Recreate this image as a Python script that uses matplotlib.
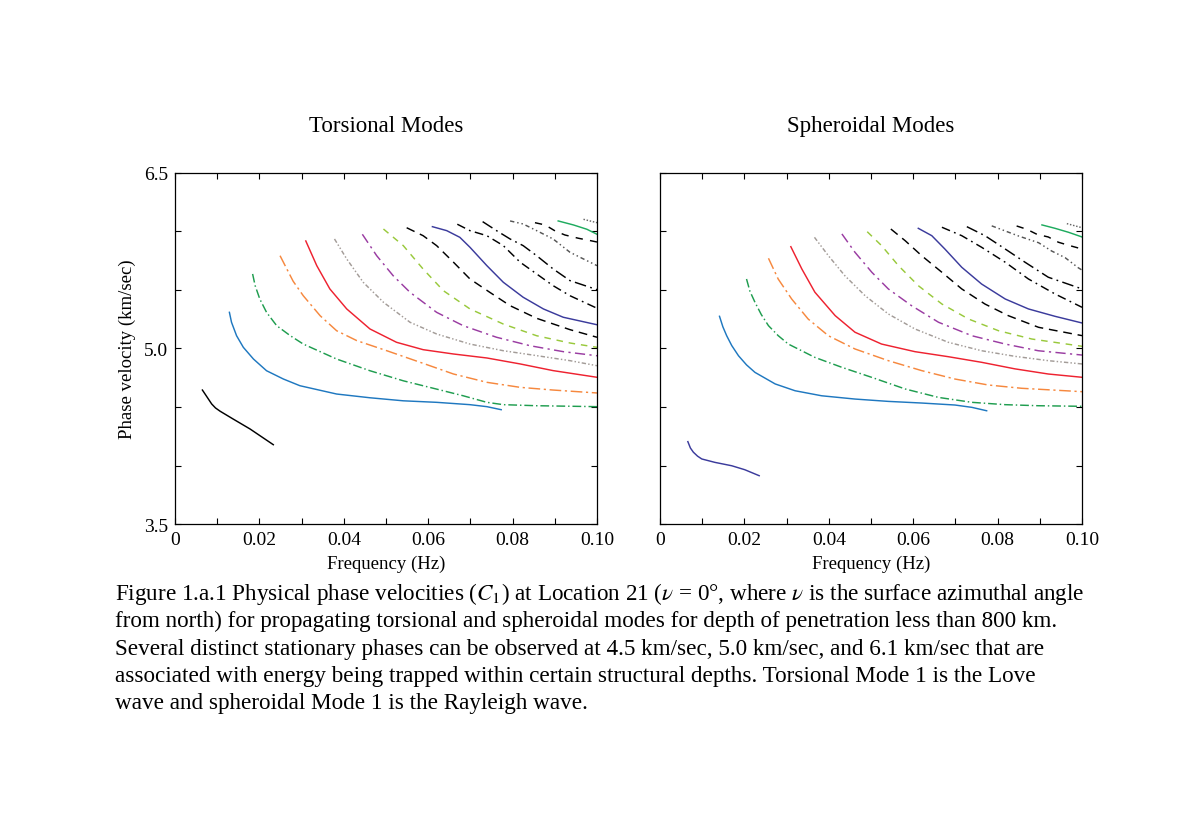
import matplotlib
matplotlib.use("Agg")
import matplotlib.pyplot as plt
from matplotlib.ticker import MultipleLocator, FixedLocator, FixedFormatter

plt.rcParams['font.family'] = ['Liberation Serif', 'DejaVu Serif']
plt.rcParams['mathtext.fontset'] = 'stix'

# phase velocity curves, one list per mode
torsional_freq = [
    [0.0065, 0.0075, 0.0087, 0.0096, 0.0107, 0.0138, 0.0178, 0.0233],
    [0.0129, 0.0134, 0.0146, 0.0162, 0.0186, 0.0217, 0.0257, 0.0296, 0.0383, 0.0462, 0.0541, 0.0620, 0.0699, 0.0739, 0.0773],
    [0.0184, 0.0190, 0.0201, 0.0217, 0.0241, 0.0273, 0.0304, 0.0383, 0.0462, 0.0541, 0.0620, 0.0683, 0.0739, 0.0778, 0.0857, 0.1000],
    [0.0249, 0.0265, 0.0280, 0.0304, 0.0344, 0.0383, 0.0431, 0.0502, 0.0581, 0.0660, 0.0739, 0.0818, 0.0896, 0.1000],
    [0.0310, 0.0336, 0.0367, 0.0407, 0.0462, 0.0525, 0.0588, 0.0660, 0.0739, 0.0818, 0.0896, 0.1000],
    [0.0378, 0.0407, 0.0446, 0.0494, 0.0557, 0.0620, 0.0699, 0.0778, 0.0857, 0.0936, 0.1000],
    [0.0444, 0.0478, 0.0517, 0.0557, 0.0620, 0.0683, 0.0762, 0.0841, 0.0920, 0.1000],
    [0.0494, 0.0541, 0.0588, 0.0636, 0.0699, 0.0778, 0.0857, 0.0936, 0.1000],
    [0.0549, 0.0588, 0.0620, 0.0660, 0.0699, 0.0746, 0.0794, 0.0857, 0.0936, 0.1000],
    [0.0610, 0.0644, 0.0675, 0.0699, 0.0739, 0.0778, 0.0825, 0.0873, 0.0920, 0.1000],
    [0.0669, 0.0699, 0.0739, 0.0778, 0.0818, 0.0857, 0.0896, 0.0936, 0.1000],
    [0.0729, 0.0762, 0.0794, 0.0825, 0.0857, 0.0896, 0.0936, 0.1000],
    [0.0794, 0.0825, 0.0857, 0.0896, 0.0936, 0.1000],
    [0.0853, 0.0877, 0.0901, 0.0924, 0.0956, 0.0980, 0.1000],
    [0.0908, 0.0944, 0.0976, 0.1000],
    [0.0968, 0.1000],
]
torsional_vel = [
    [4.645, 4.591, 4.526, 4.492, 4.464, 4.397, 4.312, 4.178],
    [5.309, 5.224, 5.109, 5.010, 4.910, 4.810, 4.739, 4.682, 4.611, 4.579, 4.553, 4.540, 4.520, 4.503, 4.477],
    [5.637, 5.537, 5.423, 5.309, 5.195, 5.110, 5.038, 4.910, 4.810, 4.724, 4.653, 4.596, 4.540, 4.520, 4.511, 4.503],
    [5.793, 5.680, 5.575, 5.451, 5.280, 5.152, 5.067, 4.981, 4.882, 4.782, 4.711, 4.668, 4.645, 4.620],
    [5.919, 5.708, 5.509, 5.338, 5.167, 5.053, 4.990, 4.953, 4.919, 4.868, 4.811, 4.754],
    [5.936, 5.765, 5.566, 5.395, 5.224, 5.124, 5.038, 4.981, 4.939, 4.896, 4.853],
    [5.976, 5.793, 5.622, 5.480, 5.309, 5.195, 5.096, 5.024, 4.973, 4.938],
    [6.021, 5.879, 5.679, 5.494, 5.338, 5.209, 5.109, 5.047, 5.010],
    [6.032, 5.964, 5.879, 5.737, 5.594, 5.480, 5.366, 5.258, 5.161, 5.096],
    [6.041, 6.007, 5.950, 5.865, 5.708, 5.566, 5.438, 5.338, 5.267, 5.203],
    [6.062, 6.007, 5.964, 5.879, 5.737, 5.637, 5.537, 5.451, 5.344],
    [6.084, 6.007, 5.936, 5.879, 5.793, 5.680, 5.580, 5.503],
    [6.090, 6.064, 6.007, 5.936, 5.822, 5.708],
    [6.075, 6.056, 6.004, 5.970, 5.942, 5.925, 5.910],
    [6.090, 6.056, 6.019, 5.976],
    [6.104, 6.075],
]

spheroidal_freq = [
    [0.0066, 0.0072, 0.0079, 0.0089, 0.0099, 0.0130, 0.0170, 0.0201, 0.0235],
    [0.0141, 0.0149, 0.0158, 0.0170, 0.0186, 0.0205, 0.0225, 0.0273, 0.0320, 0.0383, 0.0462, 0.0541, 0.0620, 0.0699, 0.0739, 0.0774],
    [0.0205, 0.0213, 0.0225, 0.0240, 0.0257, 0.0280, 0.0304, 0.0367, 0.0431, 0.0502, 0.0581, 0.0660, 0.0739, 0.0818, 0.0896, 0.1000],
    [0.0257, 0.0280, 0.0312, 0.0351, 0.0399, 0.0462, 0.0541, 0.0620, 0.0699, 0.0778, 0.0857, 0.1000],
    [0.0310, 0.0336, 0.0367, 0.0415, 0.0462, 0.0525, 0.0604, 0.0683, 0.0762, 0.0841, 0.0920, 0.1000],
    [0.0366, 0.0399, 0.0438, 0.0486, 0.0541, 0.0604, 0.0683, 0.0762, 0.0841, 0.0920, 0.1000],
    [0.0431, 0.0462, 0.0502, 0.0541, 0.0596, 0.0660, 0.0739, 0.0818, 0.0896, 0.1000],
    [0.0491, 0.0525, 0.0565, 0.0612, 0.0668, 0.0731, 0.0802, 0.0881, 0.1000],
    [0.0547, 0.0581, 0.0620, 0.0668, 0.0715, 0.0770, 0.0825, 0.0897, 0.1000],
    [0.0612, 0.0644, 0.0675, 0.0715, 0.0762, 0.0818, 0.0873, 0.0936, 0.1000],
    [0.0668, 0.0715, 0.0762, 0.0818, 0.0873, 0.0936, 0.1000],
    [0.0727, 0.0770, 0.0818, 0.0865, 0.0920, 0.1000],
    [0.0786, 0.0849, 0.0897, 0.0928, 0.0960, 0.0991, 0.1000],
    [0.0845, 0.0869, 0.0893, 0.0920, 0.0944, 0.0968, 0.1000],
    [0.0905, 0.0936, 0.0968, 0.1000],
    [0.0964, 0.1000],
]
spheroidal_vel = [
    [4.204, 4.150, 4.114, 4.080, 4.056, 4.027, 3.998, 3.964, 3.913],
    [5.275, 5.185, 5.109, 5.025, 4.938, 4.860, 4.796, 4.697, 4.639, 4.596, 4.568, 4.548, 4.534, 4.517, 4.497, 4.468],
    [5.594, 5.490, 5.395, 5.290, 5.195, 5.110, 5.038, 4.924, 4.839, 4.753, 4.654, 4.582, 4.540, 4.520, 4.511, 4.506],
    [5.771, 5.594, 5.423, 5.252, 5.109, 4.996, 4.896, 4.811, 4.739, 4.688, 4.660, 4.631],
    [5.870, 5.680, 5.481, 5.281, 5.139, 5.038, 4.973, 4.930, 4.882, 4.826, 4.782, 4.754],
    [5.950, 5.793, 5.622, 5.451, 5.295, 5.167, 5.053, 4.981, 4.933, 4.896, 4.868],
    [5.979, 5.822, 5.651, 5.509, 5.366, 5.224, 5.109, 5.038, 4.981, 4.944],
    [5.998, 5.879, 5.708, 5.537, 5.380, 5.252, 5.152, 5.081, 5.019],
    [6.021, 5.921, 5.793, 5.651, 5.509, 5.380, 5.281, 5.181, 5.110],
    [6.027, 5.964, 5.850, 5.694, 5.551, 5.423, 5.338, 5.275, 5.218],
    [6.036, 5.964, 5.865, 5.737, 5.594, 5.466, 5.352],
    [6.041, 5.964, 5.850, 5.737, 5.609, 5.509],
    [6.048, 5.962, 5.904, 5.833, 5.776, 5.690, 5.670],
    [6.047, 6.019, 5.976, 5.953, 5.908, 5.882, 5.850],
    [6.056, 6.027, 5.993, 5.953],
    [6.067, 6.032],
]

panel_titles = ['Torsional Modes', 'Spheroidal Modes']
x_ticks = [0, 0.02, 0.04, 0.06, 0.08, 0.10]
x_tick_labels = ['0', '0.02', '0.04', '0.06', '0.08', '0.10']
y_ticks = [3.5, 5.0, 6.5]
y_tick_labels = ['3.5', '5.0', '6.5']

caption = [
    r'Figure 1.a.1 Physical phase velocities ($C_1$) at Location 21 ($\nu$ = 0°, where $\nu$ is the surface azimuthal angle',
    'from north) for propagating torsional and spheroidal modes for depth of penetration less than 800 km.',
    'Several distinct stationary phases can be observed at 4.5 km/sec, 5.0 km/sec, and 6.1 km/sec that are',
    'associated with energy being trapped within certain structural depths. Torsional Mode 1 is the Love',
    'wave and spheroidal Mode 1 is the Rayleigh wave.',
]

# colour and dash style for each mode (first mode differs between panels)
first_colour = ['black', '#3b3b9c']
mode_colours = [None, '#1f78c0', '#1f9d4f', '#f6883e', '#ee2230', '#a39c98',
                '#9a3ca2', '#99c93c', 'black', '#3b3b9c', 'black', 'black',
                '#555555', 'black', '#1fab5f', '#666666']
mode_styles = ['-', '-', (0, (6, 2, 1, 2)), (0, (8, 2.5, 1.5, 2.5)), '-',
               (0, (3, 1.5, 1, 1.5, 1, 1.5)), (0, (7, 3, 1.5, 3)), (0, (4.5, 4)),
               (0, (6, 4)), '-', (0, (6, 3, 1.2, 3)), (0, (8, 3, 1.2, 3)),
               (0, (3, 2, 1, 2, 1, 2)), (0, (5, 5)), '-', (0, (1, 1.2))]

fig = plt.figure(figsize=(12, 8.28), dpi=100)
ax1 = fig.add_axes([0.1458, 0.3659, 0.3517, 0.4240])
ax2 = fig.add_axes([0.5500, 0.3659, 0.3517, 0.4240])

data = [(torsional_freq, torsional_vel), (spheroidal_freq, spheroidal_vel)]
for k, ax in enumerate([ax1, ax2]):
    freqs, vels = data[k]
    for i in range(len(freqs)):
        col = first_colour[k] if i == 0 else mode_colours[i]
        ax.plot(freqs[i], vels[i], color=col, linestyle=mode_styles[i],
                lw=1.05, solid_joinstyle='round')
    ax.set_xlim(0, 0.1)
    ax.set_ylim(3.5, 6.5)
    ax.xaxis.set_major_locator(FixedLocator(x_ticks))
    ax.xaxis.set_major_formatter(FixedFormatter(x_tick_labels))
    ax.xaxis.set_minor_locator(MultipleLocator(0.01))
    ax.yaxis.set_major_locator(FixedLocator(y_ticks))
    ax.yaxis.set_minor_locator(MultipleLocator(0.5))
    if k == 0:
        ax.yaxis.set_major_formatter(FixedFormatter(y_tick_labels))
        ax.set_ylabel('Phase velocity (km/sec)', fontsize=13.5, labelpad=6)
    else:
        ax.set_yticklabels([])
    ax.tick_params(which='both', direction='in', top=True, right=True,
                   length=4, width=0.8, labelsize=14, pad=5)
    for s in ax.spines.values():
        s.set_linewidth(0.9)
    ax.set_xlabel('Frequency (Hz)', fontsize=13.5, labelpad=5)
    ax.set_title(panel_titles[k], fontsize=16.5, pad=30)

for j, line in enumerate(caption):
    fig.text(0.0958, 1 - (594 + 27.5 * j) / 828, line, fontsize=16.7,
             ha='left', va='center')

fig.savefig('out.png', dpi=100)
